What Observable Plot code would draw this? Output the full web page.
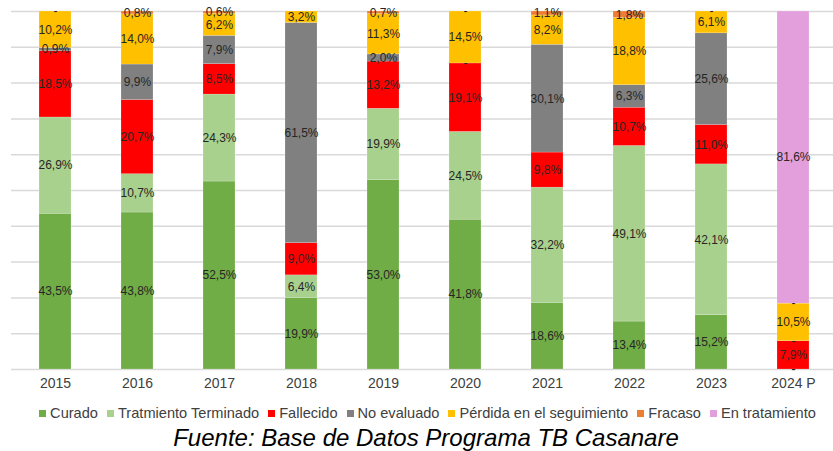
<!DOCTYPE html>
<html>
<head>
<meta charset="utf-8">
<script src="https://cdn.jsdelivr.net/npm/d3@7"></script>
<script src="https://cdn.jsdelivr.net/npm/@observablehq/plot@0.6"></script>
<style>
  body { margin: 0; background: #fff; font-family: "Liberation Sans", Arial, sans-serif; }
  #chart svg { display: block; }
  .legend { display: flex; justify-content: center; align-items: center; font-size: 14.6px; line-height: 17px; color: #404040; margin-left: 22px; margin-top: 5px; white-space: nowrap; }
  .legend span.item { display: inline-flex; align-items: center; margin-right: 9px; }
  .legend span.item:last-child { margin-right: 0; }
  .legend span.sw { width: 7px; height: 7px; display: inline-block; margin-right: 4px; }
  .caption { text-align: center; font-style: italic; font-size: 24px; line-height: 26px; color: #000; margin-top: 3px; margin-left: 19px; }
</style>
</head>
<body>
<div id="chart"></div>
<script>
const years = ["2015", "2016", "2017", "2018", "2019", "2020", "2021", "2022", "2023", "2024 P"];
const categories = ["Curado", "Tratmiento Terminado", "Fallecido", "No evaluado", "Pérdida en el seguimiento", "Fracaso", "En tratamiento"];
const colors = ["#70AD47", "#A9D18E", "#FF0000", "#808080", "#FFC000", "#ED7D31", "#E29FDB"];

const curado        = [43.5, 43.8, 52.5, 19.9, 53.0, 41.8, 18.6, 13.4, 15.2, 0];
const terminado     = [26.9, 10.7, 24.3, 6.4, 19.9, 24.5, 32.2, 49.1, 42.1, 0];
const fallecido     = [18.5, 20.7, 8.5, 9.0, 13.2, 19.1, 9.8, 10.7, 11.0, 7.9];
const noEvaluado    = [0.9, 9.9, 7.9, 61.5, 2.0, 0, 30.1, 6.3, 25.6, 0];
const perdida       = [10.2, 14.0, 6.2, 3.2, 11.3, 14.5, 8.2, 18.8, 6.1, 10.5];
const fracaso       = [0, 0.8, 0.6, null, 0.7, 0, 1.1, 1.8, 0, 0];
const enTratamiento = [null, null, null, null, null, null, null, null, null, 81.6];

const series = [curado, terminado, fallecido, noEvaluado, perdida, fracaso, enTratamiento];

const data = [];
series.forEach((vals, si) => {
  vals.forEach((v, yi) => {
    if (v !== null) data.push({year: years[yi], cat: categories[si], value: v, order: si});
  });
});

const fmt = v => v === 0 ? "-" : v.toFixed(1).replace(".", ",") + "%";

const stackOpts = {x: "year", y: "value", z: "cat", order: categories, offset: "normalize"};

const chart = Plot.plot({
  width: 833,
  height: 400,
  marginTop: 11,
  marginBottom: 31,
  marginLeft: 11,
  marginRight: 0,
  style: {fontFamily: "'Liberation Sans', Arial, sans-serif", background: "#fff"},
  x: {domain: years, paddingInner: 0.606, paddingOuter: 0.279, align: 0.536, label: null},
  y: {domain: [0, 1], axis: null},
  color: {domain: categories, range: colors},
  marks: [
    Plot.ruleY(d3.range(0, 11).map(i => i / 10), {stroke: "#d9d9d9", strokeWidth: 1.5}),
    Plot.barY(data, Plot.stackY({...stackOpts, fill: "cat", stroke: "#fff", strokeOpacity: 0.35, strokeWidth: 0.5})),
    Plot.text(data, Plot.stackY({...stackOpts, text: d => fmt(d.value), fill: "#262626", fontSize: 12})),
    Plot.axisX({tickSize: 0, tickPadding: 9, fontSize: 14, fill: "#404040", label: null})
  ]
});

document.getElementById("chart").appendChild(chart);

const legend = document.createElement("div");
legend.className = "legend";
categories.forEach((c, i) => {
  const it = document.createElement("span");
  it.className = "item";
  const sw = document.createElement("span");
  sw.className = "sw";
  sw.style.background = colors[i];
  it.appendChild(sw);
  it.appendChild(document.createTextNode(c));
  legend.appendChild(it);
});
document.body.appendChild(legend);

const cap = document.createElement("div");
cap.className = "caption";
cap.textContent = "Fuente: Base de Datos Programa TB Casanare";
document.body.appendChild(cap);
</script>
</body>
</html>
